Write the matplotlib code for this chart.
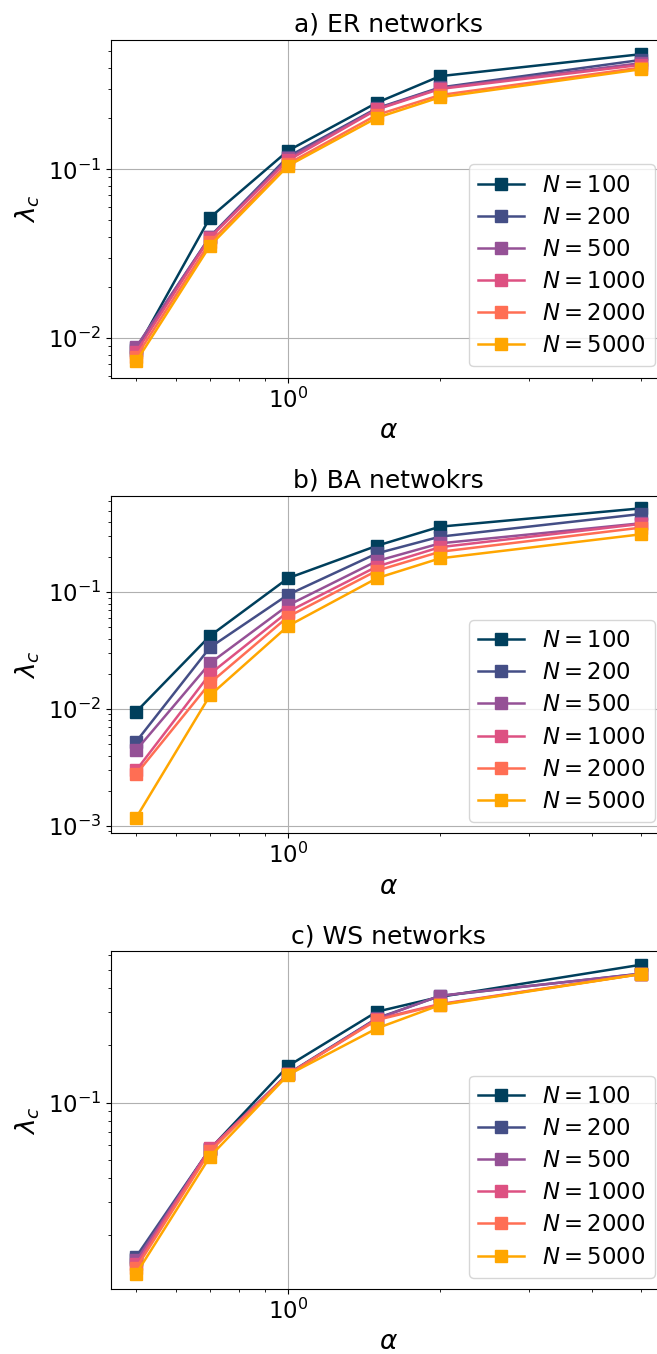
import numpy as np
import matplotlib
matplotlib.use('Agg')
from matplotlib import pyplot as plt

# critical lambda vs alpha
alphas = [0.5, 0.7, 1.0, 1.5, 2.0, 5.0]
sizes = [100, 200, 500, 1000, 2000, 5000]
colors = ['#003f5c', '#444e86', '#955196', '#dd5182', '#ff6e54', '#ffa600']

lambda_er = [
	[0.0085, 0.0518, 0.129, 0.248, 0.356, 0.480],
	[0.0088, 0.0400, 0.119, 0.230, 0.305, 0.444],
	[0.0089, 0.0398, 0.116, 0.228, 0.302, 0.425],
	[0.0083, 0.0394, 0.113, 0.226, 0.299, 0.415],
	[0.0078, 0.0370, 0.108, 0.210, 0.275, 0.400],
	[0.0073, 0.0353, 0.105, 0.202, 0.267, 0.391],
]
lambda_ba = [
	[0.0095, 0.0423, 0.132, 0.250, 0.364, 0.522],
	[0.00528, 0.0337, 0.0954, 0.215, 0.299, 0.467],
	[0.00446, 0.0247, 0.0774, 0.185, 0.262, 0.389],
	[0.0030, 0.0200, 0.0682, 0.166, 0.243, 0.384],
	[0.00278, 0.0167, 0.0618, 0.153, 0.222, 0.357],
	[0.00118, 0.0131, 0.0515, 0.132, 0.195, 0.313],
]
lambda_ws = [
	[0.0150, 0.0570, 0.156, 0.301, 0.360, 0.531],
	[0.0155, 0.0572, 0.142, 0.278, 0.364, 0.477],
	[0.0148, 0.0570, 0.141, 0.276, 0.365, 0.476],
	[0.0141, 0.0575, 0.141, 0.275, 0.330, 0.475],
	[0.0135, 0.0555, 0.141, 0.272, 0.328, 0.475],
	[0.0126, 0.0520, 0.140, 0.246, 0.326, 0.474],
]

titles = ['a) ER networks', 'b) BA netwokrs', 'c) WS networks']
ylims = [(0.00585, 0.582), (0.000866, 0.67), (0.01046, 0.624)]

plt.rcParams['font.size'] = 16.5

fig = plt.figure(figsize=(6.57, 13.54), dpi=100)
bottoms = [0.7211, 0.3846, 0.048]
for data, title, ylim, bottom in zip([lambda_er, lambda_ba, lambda_ws], titles, ylims, bottoms):
	ax = fig.add_axes([0.169, bottom, 0.8447, 0.2493])
	for N, vals, c in zip(sizes, data, colors):
		ax.plot(alphas, vals, marker='s', markersize=8.5, lw=1.8, color=c, label='$N = %d$' % N)
	ax.set_xscale('log')
	ax.set_yscale('log')
	ax.set_ylim(*ylim)
	ax.set_xlim(0.4456, 5.61)
	ax.grid(True, which='major')
	ax.set_title(title, fontsize=18)
	ax.set_xlabel(r'$\alpha$', fontsize=19)
	ax.set_ylabel(r'$\lambda_c$', fontsize=19)
	ax.legend(loc='lower right', fontsize=16.4, labelspacing=0.4)

fig.savefig('out.png', dpi=100)
